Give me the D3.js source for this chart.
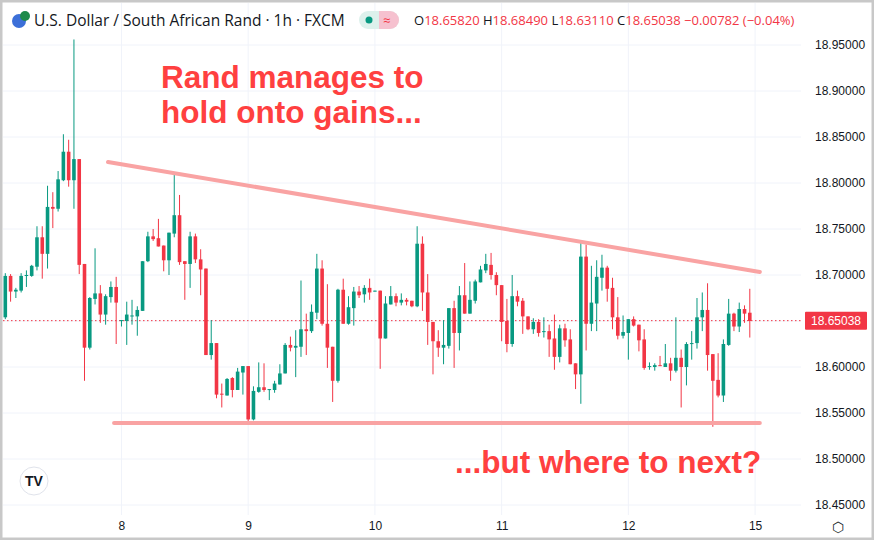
<!DOCTYPE html>
<html><head><meta charset="utf-8">
<script src="https://cdn.jsdelivr.net/npm/d3@7"></script>
<style>body{margin:0;background:#fff;}svg{display:block;font-family:"Liberation Sans",Arial,sans-serif;}</style>
</head><body>
<script>
const opens =[18.654,18.699,18.682,18.683,18.699,18.699,18.709,18.741,18.723,18.774,18.772,18.803,18.834,18.803,18.826,18.712,18.621,18.674,18.680,18.657,18.676,18.687,18.650,18.650,18.656,18.655,18.661,18.715,18.742,18.740,18.732,18.716,18.745,18.765,18.715,18.712,18.742,18.717,18.707,18.613,18.626,18.571,18.569,18.588,18.575,18.594,18.601,18.543,18.573,18.578,18.575,18.575,18.581,18.593,18.624,18.621,18.622,18.641,18.639,18.659,18.707,18.647,18.622,18.585,18.684,18.647,18.664,18.682,18.679,18.686,18.682,18.683,18.631,18.668,18.677,18.670,18.673,18.672,18.666,18.734,18.681,18.649,18.628,18.621,18.623,18.664,18.637,18.678,18.658,18.672,18.692,18.705,18.711,18.700,18.689,18.650,18.625,18.677,18.672,18.655,18.641,18.649,18.638,18.639,18.631,18.611,18.642,18.630,18.604,18.592,18.720,18.647,18.669,18.697,18.708,18.686,18.654,18.634,18.637,18.652,18.646,18.630,18.600,18.600,18.602,18.600,18.604,18.596,18.610,18.600,18.625,18.626,18.654,18.662,18.614,18.586,18.569,18.624,18.658,18.644,18.663,18.659];
const highs =[18.702,18.701,18.686,18.702,18.705,18.711,18.753,18.753,18.797,18.790,18.813,18.853,18.847,18.956,18.826,18.712,18.676,18.729,18.689,18.679,18.693,18.698,18.651,18.671,18.673,18.666,18.715,18.747,18.750,18.761,18.732,18.746,18.811,18.787,18.715,18.747,18.745,18.728,18.707,18.651,18.626,18.582,18.588,18.589,18.599,18.601,18.601,18.579,18.605,18.604,18.576,18.585,18.603,18.626,18.633,18.640,18.694,18.658,18.668,18.723,18.716,18.690,18.622,18.685,18.696,18.677,18.687,18.688,18.689,18.696,18.683,18.683,18.677,18.688,18.680,18.680,18.675,18.672,18.753,18.742,18.701,18.649,18.640,18.651,18.664,18.672,18.688,18.713,18.693,18.695,18.710,18.723,18.724,18.703,18.689,18.674,18.700,18.683,18.675,18.655,18.653,18.652,18.654,18.646,18.657,18.646,18.647,18.641,18.604,18.735,18.733,18.710,18.716,18.722,18.710,18.697,18.676,18.656,18.652,18.655,18.646,18.641,18.605,18.604,18.612,18.625,18.610,18.654,18.619,18.627,18.639,18.675,18.681,18.691,18.614,18.615,18.630,18.674,18.659,18.670,18.667,18.685];
const lows  =[18.652,18.671,18.675,18.681,18.687,18.698,18.705,18.696,18.707,18.751,18.769,18.802,18.796,18.772,18.701,18.585,18.619,18.668,18.648,18.646,18.670,18.625,18.644,18.624,18.646,18.634,18.661,18.714,18.737,18.731,18.704,18.700,18.741,18.711,18.673,18.686,18.713,18.678,18.613,18.608,18.566,18.556,18.569,18.567,18.575,18.570,18.541,18.542,18.572,18.573,18.564,18.572,18.581,18.593,18.617,18.589,18.611,18.613,18.637,18.652,18.645,18.599,18.562,18.583,18.647,18.646,18.645,18.675,18.670,18.673,18.682,18.598,18.631,18.668,18.666,18.667,18.667,18.665,18.665,18.661,18.624,18.592,18.611,18.603,18.620,18.599,18.618,18.658,18.658,18.669,18.692,18.702,18.695,18.678,18.628,18.616,18.622,18.666,18.636,18.640,18.636,18.633,18.632,18.611,18.597,18.605,18.622,18.603,18.576,18.560,18.618,18.639,18.639,18.683,18.671,18.641,18.630,18.631,18.608,18.644,18.617,18.597,18.597,18.596,18.601,18.600,18.585,18.594,18.556,18.580,18.608,18.620,18.639,18.596,18.535,18.567,18.562,18.623,18.639,18.638,18.648,18.632];
const closes=[18.699,18.682,18.684,18.699,18.700,18.710,18.741,18.723,18.774,18.772,18.804,18.834,18.803,18.826,18.711,18.621,18.675,18.680,18.657,18.677,18.687,18.670,18.651,18.657,18.656,18.662,18.715,18.742,18.739,18.731,18.716,18.746,18.765,18.714,18.712,18.742,18.717,18.706,18.613,18.626,18.570,18.570,18.587,18.575,18.595,18.601,18.543,18.574,18.578,18.575,18.576,18.582,18.593,18.624,18.621,18.623,18.641,18.639,18.660,18.707,18.647,18.621,18.585,18.684,18.647,18.665,18.682,18.678,18.686,18.681,18.683,18.631,18.669,18.677,18.670,18.673,18.671,18.666,18.734,18.681,18.649,18.628,18.621,18.624,18.664,18.637,18.678,18.658,18.673,18.693,18.706,18.712,18.700,18.689,18.649,18.625,18.677,18.671,18.655,18.641,18.649,18.637,18.639,18.630,18.611,18.642,18.629,18.603,18.592,18.720,18.647,18.670,18.698,18.708,18.685,18.654,18.634,18.638,18.652,18.645,18.629,18.599,18.601,18.602,18.601,18.604,18.596,18.610,18.600,18.625,18.626,18.654,18.662,18.613,18.585,18.569,18.625,18.658,18.644,18.663,18.658,18.650];
const yTicks=[18.45,18.50,18.55,18.60,18.65,18.70,18.75,18.80,18.85,18.90,18.95];
const dayLabels=["8","9","10","11","12","15"];
const dayIndex=[22,46,70,94,118,142];
const lastPrice=18.65038;
const resistance=[[19.45,18.8228],[142.9,18.7033]];
const support=[[20.6,18.5391],[142.9,18.5391]];

const W=874,H=540;
const svg=d3.select("body").append("svg").attr("width",W).attr("height",H);
const x=d3.scaleLinear().domain([0,141]).range([5.3,749.8]);
const y=d3.scaleLinear().domain([18.45,18.95]).range([505,45]);
const green="#089981",red="#f23645";
svg.append("g").selectAll("line").data(yTicks).join("line")
 .attr("x1",3).attr("x2",801).attr("y1",d=>y(d)).attr("y2",d=>y(d)).attr("stroke","#f0f3fa");
svg.append("g").selectAll("line").data(dayIndex).join("line")
 .attr("x1",d=>x(d)).attr("x2",d=>x(d)).attr("y1",3).attr("y2",515).attr("stroke","#f0f3fa");
// y labels (the one under the last-price badge is hidden by it, as in the reference)
const visibleTicks=yTicks.filter(t=>Math.abs(y(t)-y(lastPrice))>12);
const ya=d3.axisRight(y).tickValues(visibleTicks).tickSize(0).tickFormat(d3.format(".5f"));
svg.append("g").attr("transform","translate(810,0)").call(ya)
 .call(g=>g.select(".domain").remove())
 .selectAll("text").attr("font-size",12).attr("fill","#131722").attr("dx",2);
const xa=d3.axisBottom(x).tickValues(dayIndex).tickSize(0).tickFormat((d,i)=>dayLabels[i]);
svg.append("g").attr("transform","translate(0,518)").call(xa)
 .call(g=>g.select(".domain").remove())
 .selectAll("text").attr("font-size",12).attr("fill","#131722");
svg.append("line").attr("x1",3).attr("x2",802).attr("y1",y(lastPrice)).attr("y2",y(lastPrice))
 .attr("stroke",red).attr("stroke-dasharray","1.5,2.5").attr("stroke-width",1);
const data=opens.map((o,i)=>({i,o,h:highs[i],l:lows[i],c:closes[i]}));
const cg=svg.append("g");
data.forEach(d=>{
  const col=d.c>=d.o?green:red;
  cg.append("line").attr("x1",x(d.i)).attr("x2",x(d.i)).attr("y1",y(d.h)).attr("y2",y(d.l)).attr("stroke",col).attr("stroke-width",1);
  const t=y(Math.max(d.o,d.c)),b=y(Math.min(d.o,d.c));
  cg.append("rect").attr("x",x(d.i)-1.8).attr("width",3.6).attr("y",t).attr("height",Math.max(1,b-t)).attr("fill",col);
});
const ln=d3.line().x(d=>x(d[0])).y(d=>y(d[1]));
[resistance,support].forEach(p=>svg.append("path").attr("d",ln(p)).attr("stroke","#f9a3a3").attr("stroke-width",4).attr("fill","none").attr("stroke-linecap","round"));
svg.append("rect").attr("x",805).attr("y",y(lastPrice)-9).attr("width",62).attr("height",18).attr("fill",red).attr("rx",1);
svg.append("text").attr("x",836).attr("y",y(lastPrice)+4.5).attr("text-anchor","middle").attr("fill","#fff").attr("font-size",12).text(lastPrice.toFixed(5));
const ann=svg.append("g").attr("fill","#ff4040").attr("font-weight","bold").attr("font-size",31.5).attr("font-family","'Liberation Sans',Arial,sans-serif");
ann.append("text").attr("x",161).attr("y",88).text("Rand manages to");
ann.append("text").attr("x",161).attr("y",123).text("hold onto gains...");
ann.append("text").attr("x",455).attr("y",473).text("...but where to next?");
const hd=svg.append("g").attr("font-size",15.5).attr("font-family","'Open Sans',sans-serif");
hd.append("circle").attr("cx",19).attr("cy",21).attr("r",7).attr("fill","#3c6fd8");
hd.append("circle").attr("cx",25).attr("cy",16).attr("r",5).attr("fill","#1d8a4a");
hd.append("text").attr("x",34).attr("y",26).attr("fill","#131722").text("U.S. Dollar / South African Rand · 1h · FXCM");
hd.append("rect").attr("x",359).attr("y",11).attr("width",40).attr("height",18).attr("rx",9).attr("fill","#ddf1ec");
hd.append("path").attr("d","M379,11 H390 A9,9 0 0 1 390,29 H379 Z").attr("fill","#f6c1cf");
hd.append("circle").attr("cx",369).attr("cy",20).attr("r",3.5).attr("fill",green);
hd.append("text").attr("x",383).attr("y",25).attr("fill",red).attr("font-size",13).text("≈");
const ohlc=hd.append("text").attr("x",414).attr("y",25).attr("font-size",13);
[["O","#131722"],["18.65820 ",red],["H","#131722"],["18.68490 ",red],["L","#131722"],["18.63110 ",red],["C","#131722"],["18.65038 −0.00782 (−0.04%)",red]]
 .forEach(([t,c])=>ohlc.append("tspan").attr("fill",c).text(t));
svg.append("circle").attr("cx",34).attr("cy",481).attr("r",14).attr("fill","#fff").attr("stroke","#e0e3eb");
svg.append("text").attr("x",34).attr("y",486).attr("text-anchor","middle").attr("font-weight","bold").attr("font-size",14).attr("fill","#131722").text("TV");
svg.append("text").attr("x",838).attr("y",532).attr("text-anchor","middle").attr("font-size",14).attr("fill","#131722").text("⬡");
svg.append("rect").attr("x",1).attr("y",1).attr("width",W-2).attr("height",H-2).attr("fill","none").attr("stroke","#c8c8c8").attr("stroke-width",3);
</script>
</body></html>
